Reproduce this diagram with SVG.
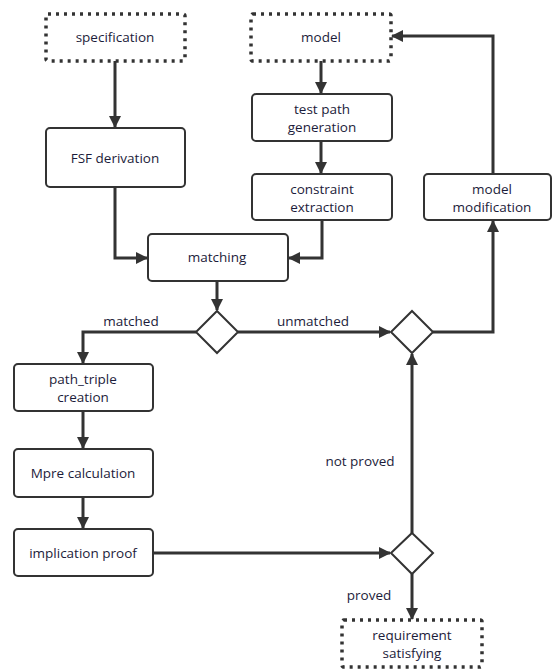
<svg xmlns="http://www.w3.org/2000/svg" width="552" height="670" viewBox="0 0 552 670">
<style>
.box{fill:#fff;stroke:#333;stroke-width:2}
.dot{fill:#fff;stroke:#333;stroke-width:3.5;stroke-dasharray:3 5}
.dia{fill:#fff;stroke:#333;stroke-width:2}
.t{font-family:"Open Sans","Noto Sans",sans-serif;font-size:13.5px;fill:#1c1c3a;text-anchor:middle}
.c{fill:none;stroke:#333;stroke-width:3}
</style>
<defs>
<marker id="ah" markerUnits="userSpaceOnUse" markerWidth="12" markerHeight="14" viewBox="0 0 12 14" refX="11" refY="7" orient="auto">
<path d="M0,1 L12,7 L0,13 Z" fill="#333"/>
</marker>
</defs>
<rect width="552" height="670" fill="#fff"/>
<g id="connectors">
<path class="c" d="M115,61 V127" marker-end="url(#ah)"/>
<path class="c" d="M321,61 V93" marker-end="url(#ah)"/>
<path class="c" d="M321,141 V173" marker-end="url(#ah)"/>
<path class="c" d="M115,187 V258 H147" marker-end="url(#ah)"/>
<path class="c" d="M322,220 V258 H289" marker-end="url(#ah)"/>
<path class="c" d="M217,281 V310" marker-end="url(#ah)"/>
<path class="c" d="M196,332 H83 V363" marker-end="url(#ah)"/>
<path class="c" d="M238,332 H390" marker-end="url(#ah)"/>
<path class="c" d="M433,332 H493 V221" marker-end="url(#ah)"/>
<path class="c" d="M493,174 V36 H392" marker-end="url(#ah)"/>
<path class="c" d="M83,412 V448" marker-end="url(#ah)"/>
<path class="c" d="M83,497 V528" marker-end="url(#ah)"/>
<path class="c" d="M153,553 H390" marker-end="url(#ah)"/>
<path class="c" d="M412,533 V354" marker-end="url(#ah)"/>
<path class="c" d="M412,574 V619" marker-end="url(#ah)"/>
<text class="t" x="131" y="326">matched</text>
<text class="t" x="313" y="326">unmatched</text>
<text class="t" x="360" y="466">not proved</text>
<text class="t" x="369" y="600">proved</text>
</g>
<g id="specification"><rect class="dot" x="46" y="14" width="139" height="47" rx="2"/><text class="t" x="115" y="42">specification</text></g>
<g id="model"><rect class="dot" x="251" y="14" width="140" height="47" rx="2"/><text class="t" x="321" y="42">model</text></g>
<g id="fsf"><rect class="box" x="46" y="128" width="139" height="59" rx="4"/><text class="t" x="115" y="163">FSF derivation</text></g>
<g id="testpath"><rect class="box" x="252" y="94" width="140" height="47" rx="4"/><text class="t" x="322" y="114">test path</text><text class="t" x="322" y="132">generation</text></g>
<g id="constraint"><rect class="box" x="252" y="174" width="140" height="46" rx="4"/><text class="t" x="322" y="194">constraint</text><text class="t" x="322" y="212">extraction</text></g>
<g id="modelmod"><rect class="box" x="424" y="174" width="127" height="46" rx="4"/><text class="t" x="492" y="194">model</text><text class="t" x="492" y="212">modification</text></g>
<g id="matching"><rect class="box" x="148" y="234" width="140" height="47" rx="4"/><text class="t" x="217" y="262">matching</text></g>
<g id="d1"><path class="dia" d="M217,311 L238,332 L217,353 L196,332 Z"/></g>
<g id="d2"><path class="dia" d="M412,311 L433,332 L412,353 L391,332 Z"/></g>
<g id="pathtriple"><rect class="box" x="14" y="364" width="139" height="47" rx="4"/><text class="t" x="83" y="384">path_triple</text><text class="t" x="83" y="402">creation</text></g>
<g id="mpre"><rect class="box" x="14" y="449" width="139" height="48" rx="4"/><text class="t" x="83" y="478">Mpre calculation</text></g>
<g id="implication"><rect class="box" x="14" y="529" width="139" height="47" rx="4"/><text class="t" x="83" y="558">implication proof</text></g>
<g id="d3"><path class="dia" d="M412,533 L433,553 L412,574 L391,553 Z"/></g>
<g id="requirement"><rect class="dot" x="342" y="620" width="140" height="47" rx="2"/><text class="t" x="412" y="640">requirement</text><text class="t" x="412" y="658">satisfying</text></g>
</svg>
